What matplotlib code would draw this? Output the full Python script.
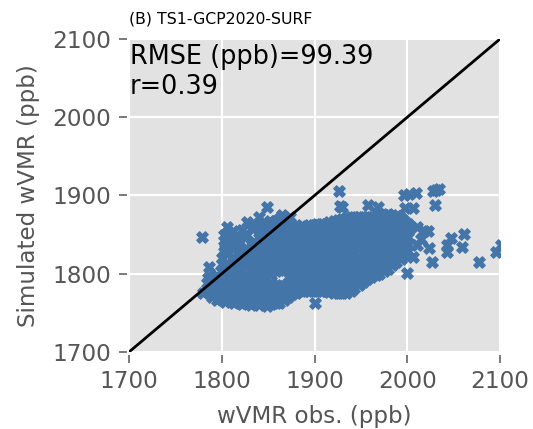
import matplotlib
matplotlib.use("Agg")
import matplotlib.pyplot as plt

title = "(B) TS1-GCP2020-SURF"
x_label = "wVMR obs. (ppb)"
y_label = "Simulated wVMR (ppb)"
stats_text = "RMSE (ppb)=99.39\nr=0.39"
ticks = [1700, 1800, 1900, 2000, 2100]

# main cloud, read off by vertical slices: (observed, [simulated, ...])
cloud_slices = [
    (1790, [1770, 1778, 1787]),
    (1795, [1766, 1773, 1781, 1789, 1797]),
    (1799, [1768, 1777, 1786, 1795, 1804]),
    (1804, [1764, 1772, 1781, 1790, 1799, 1807]),
    (1808, [1766, 1775, 1784, 1793, 1802, 1811]),
    (1813, [1762, 1770, 1779, 1788, 1797, 1806, 1815]),
    (1817, [1764, 1773, 1782, 1791, 1800, 1809, 1818, 1825]),
    (1822, [1761, 1768, 1777, 1786, 1795, 1804, 1813, 1822, 1829]),
    (1826, [1763, 1772, 1781, 1790, 1799, 1808, 1817, 1826, 1833]),
    (1831, [1760, 1767, 1776, 1785, 1794, 1803, 1812, 1821, 1830, 1838]),
    (1835, [1762, 1771, 1780, 1789, 1798, 1807, 1816, 1825, 1834, 1841]),
    (1840, [1760, 1766, 1775, 1784, 1793, 1802, 1811, 1820, 1829, 1838, 1846]),
    (1844, [1762, 1771, 1780, 1789, 1798, 1807, 1816, 1825, 1834, 1843, 1849]),
    (1849, [1759, 1766, 1775, 1784, 1793, 1802, 1811, 1820, 1829, 1838, 1847, 1853]),
    (1853, [1761, 1770, 1779, 1788, 1799, 1808, 1817, 1826, 1835, 1844, 1853]),
    (1858, [1762, 1767, 1776, 1785, 1803, 1812, 1821, 1830, 1839, 1848, 1857]),
    (1862, [1763, 1772, 1780, 1805, 1813, 1822, 1831, 1840, 1849, 1858]),
    (1867, [1766, 1775, 1784, 1807, 1816, 1825, 1834, 1843, 1852, 1860]),
    (1871, [1770, 1779, 1788, 1803, 1811, 1820, 1829, 1838, 1847, 1856, 1862]),
    (1876, [1774, 1783, 1792, 1801, 1807, 1816, 1825, 1834, 1843, 1852, 1861]),
    (1880, [1776, 1785, 1794, 1803, 1812, 1821, 1830, 1839, 1848, 1857, 1862]),
    (1885, [1778, 1782, 1791, 1800, 1808, 1817, 1826, 1835, 1844, 1853, 1861]),
    (1889, [1778, 1787, 1796, 1805, 1814, 1823, 1832, 1841, 1850, 1860]),
    (1894, [1778, 1783, 1792, 1801, 1810, 1819, 1828, 1837, 1846, 1855, 1862]),
    (1898, [1778, 1787, 1796, 1805, 1814, 1823, 1832, 1841, 1850, 1859, 1862]),
    (1903, [1778, 1783, 1792, 1801, 1810, 1819, 1828, 1837, 1846, 1855, 1863]),
    (1907, [1778, 1787, 1796, 1805, 1814, 1823, 1832, 1841, 1850, 1859, 1864]),
    (1912, [1778, 1783, 1792, 1801, 1810, 1819, 1828, 1837, 1846, 1855, 1864]),
    (1916, [1777, 1786, 1795, 1804, 1813, 1822, 1831, 1840, 1849, 1858, 1866]),
    (1921, [1776, 1781, 1790, 1799, 1808, 1817, 1826, 1835, 1844, 1853, 1862, 1867]),
    (1925, [1775, 1784, 1793, 1802, 1811, 1820, 1829, 1838, 1847, 1856, 1865, 1869]),
    (1930, [1775, 1780, 1789, 1798, 1807, 1816, 1825, 1834, 1843, 1852, 1861, 1870]),
    (1934, [1775, 1784, 1793, 1802, 1811, 1820, 1829, 1838, 1847, 1856, 1865, 1871]),
    (1939, [1778, 1787, 1796, 1805, 1814, 1823, 1832, 1841, 1850, 1859, 1868, 1872]),
    (1943, [1782, 1791, 1800, 1809, 1818, 1827, 1836, 1845, 1854, 1863, 1872]),
    (1948, [1786, 1795, 1804, 1813, 1822, 1831, 1840, 1849, 1858, 1867, 1872]),
    (1952, [1790, 1799, 1808, 1817, 1826, 1835, 1844, 1853, 1862, 1872]),
    (1957, [1793, 1802, 1811, 1820, 1829, 1838, 1847, 1856, 1865, 1873]),
    (1961, [1796, 1805, 1814, 1823, 1832, 1841, 1850, 1859, 1868, 1873]),
    (1966, [1798, 1807, 1816, 1825, 1834, 1843, 1852, 1861, 1870, 1874]),
    (1970, [1800, 1809, 1818, 1827, 1836, 1845, 1854, 1863, 1872]),
    (1975, [1803, 1812, 1821, 1830, 1839, 1848, 1857, 1866, 1875]),
    (1979, [1806, 1815, 1824, 1833, 1842, 1851, 1860, 1869, 1876]),
    (1984, [1811, 1820, 1829, 1838, 1847, 1856, 1865, 1875]),
    (1988, [1815, 1824, 1833, 1842, 1851, 1860, 1869, 1874]),
    (1993, [1819, 1828, 1837, 1846, 1855, 1864, 1871]),
    (1997, [1824, 1833, 1842, 1851, 1860, 1867]),
    (2001, [1829, 1838, 1847, 1856, 1863]),
]

# sparse marks around the cloud
outlier_obs = [1779, 1786, 1785, 1780, 1806, 1804, 1800, 1812, 1827, 1849, 1840, 1865, 1874,
               1827, 1811, 1818, 1835, 1857, 1926, 1928, 1901, 1958, 1969, 1998, 2006,
               1996, 2002, 2009, 2031, 2028, 2034, 2030, 2018, 2022, 2011, 2023, 2027,
               2006, 2015, 2047, 2043, 2043, 2061, 2059, 2077, 2096, 2101, 2000, 1930, 2010,
               1802, 1812, 1806, 1818, 1833, 1846, 1855, 1870,
               1806, 1815, 1822, 1835, 1843, 1852, 1862, 1806, 1815, 1802, 1800, 1790, 1784]
outlier_sim = [1847, 1808, 1795, 1776, 1860, 1831, 1820, 1854, 1866, 1885, 1873, 1875, 1873,
               1850, 1834, 1845, 1862, 1868, 1906, 1887, 1763, 1888, 1885, 1884, 1884,
               1901, 1902, 1903, 1907, 1906, 1908, 1888, 1855, 1855, 1837, 1833, 1815,
               1822, 1845, 1846, 1837, 1828, 1851, 1834, 1815, 1828, 1837, 1801, 1885, 1860,
               1850, 1822, 1842, 1838, 1858, 1866, 1865, 1870,
               1845, 1848, 1856, 1862, 1862, 1868, 1870, 1825, 1838, 1836, 1812, 1796, 1788]

obs = [x for x, ys in cloud_slices for _ in ys] + outlier_obs
sim = [y for _, ys in cloud_slices for y in ys] + outlier_sim

GREY = "#555555"
fig = plt.figure(figsize=(5.33, 4.29), dpi=100)
ax = fig.add_axes([129 / 533, 1 - 352 / 429, 371 / 533, 313 / 429], facecolor="#e2e2e2")
ax.scatter(obs, sim, marker="X", s=68, color="#4375a9", edgecolors="#4375a9", linewidths=0.9, zorder=3)
ax.plot(ticks, ticks, color="black", lw=2.0, zorder=4)
ax.set_xlim(1700, 2100)
ax.set_ylim(1700, 2100)
ax.set_xticks(ticks)
ax.set_yticks(ticks)
ax.grid(True, color="white", lw=1.5, zorder=1)
ax.set_axisbelow(True)
for s in ax.spines.values():
    s.set_visible(False)
ax.spines["left"].set_position(("outward", 1.5))
ax.spines["bottom"].set_position(("outward", 2))
ax.tick_params(labelsize=16.7, colors=GREY, length=5.5, width=1.1)
ax.tick_params(axis="x", pad=5.5)
ax.tick_params(axis="y", pad=6)
ax.set_xlabel(x_label, fontsize=16.6, color=GREY, labelpad=8.5)
ax.set_ylabel(y_label, fontsize=16.6, color=GREY, labelpad=9)
ax.set_title(title, fontsize=11.3, loc="left", pad=11.5)
ax.text(0.003, 0.985, stats_text, transform=ax.transAxes, fontsize=18.4, va="top", ha="left",
        linespacing=1.22, zorder=5)
fig.savefig("out.png", dpi=100)
